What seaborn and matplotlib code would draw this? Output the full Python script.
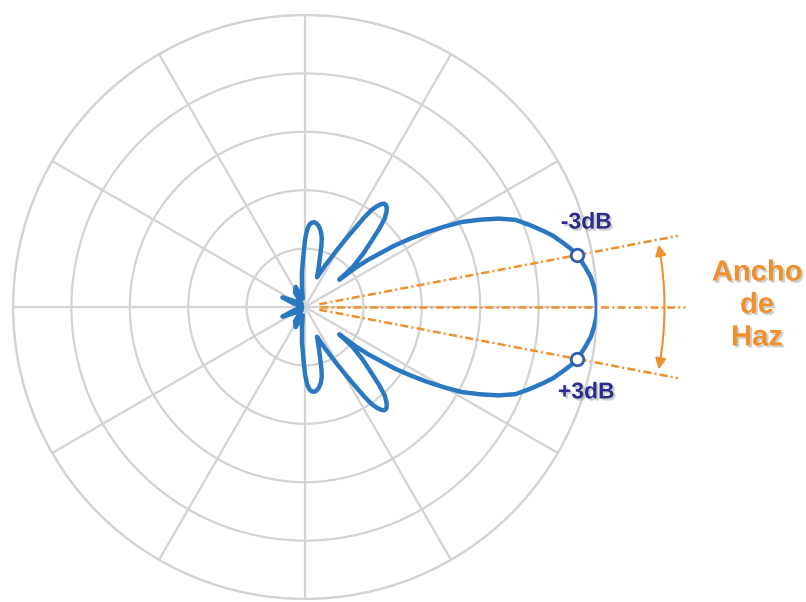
import numpy as np
import matplotlib
matplotlib.use("Agg")
import matplotlib.pyplot as plt
import matplotlib.patheffects as pe
import seaborn as sns

# radiation pattern, upper half (degrees, radius in grid rings); lower half is its mirror
theta_deg = [0, 2, 4, 6, 8, 10.8, 12.5, 14, 16, 17.5, 20, 22.5, 24.5, 26.5, 28.5,
             30, 31.5, 33, 34.5, 35.5, 36.8, 37.8, 38.5,
             40, 42.5, 44.6, 46.5, 48, 49.5, 50.5, 51.5, 52.5, 53.5, 54.5, 55.5, 56.5, 57.5,
             59, 60.7, 64, 68,
             71, 73.3, 75, 76.5, 78.5, 80.5, 82.5, 84, 85.5, 87, 88.5, 90, 92, 95, 98.5,
             105, 115, 125, 135, 150, 157, 163, 172, 180]
radius = [5.0, 4.99, 4.96, 4.92, 4.85, 4.75, 4.65, 4.55, 4.42, 4.3, 4.1, 3.9, 3.65, 3.35, 3.05,
          2.75, 2.45, 2.15, 1.85, 1.6, 1.35, 1.1, 0.75,
          1.07, 1.35, 1.58, 1.85, 2.04, 2.15, 2.2, 2.23, 2.23, 2.19, 2.12, 2.02, 1.84, 1.62,
          1.36, 1.12, 0.8, 0.55,
          0.72, 0.89, 1.08, 1.23, 1.34, 1.41, 1.45, 1.46, 1.45, 1.41, 1.32, 1.15, 0.86, 0.6, 0.35,
          0.15, 0.38, 0.3, 0.08, 0.2, 0.42, 0.2, 0.05, 0.05]

beam_edges_deg = [10.8, -10.8]
beam_edge_r = [4.75, 4.75]
edge_labels = ["-3dB", "+3dB"]
label_theta_deg = [16.8, -16.8]
ring_ticks = [1, 2, 3, 4, 5]
spoke_ticks = list(range(0, 360, 30))

BLUE = "#2a78c2"
NAVY = "#2b2d8c"
ORANGE = "#f0902c"
GRID = "#d3d3d3"

sns.set_theme(style="white")
plt.rcParams["font.family"] = ["Liberation Sans", "DejaVu Sans"]

fig = plt.figure(figsize=(8.06, 6.02), dpi=100)
ax = fig.add_axes([0.01613, 0.00498, 0.72457, 0.97010], projection="polar")

# full closed contour
th = np.radians(theta_deg)
full_theta = np.concatenate([th, -th[::-1]])
full_r = np.concatenate([radius, radius[::-1]])

# beam-width guide lines
for ang in [0] + beam_edges_deg:
    ax.plot([np.radians(ang)] * 2, [0.25, 6.5], color=ORANGE, lw=1.8,
            linestyle=(0, (3.2, 1.3, 0.8, 1.3)), clip_on=False, zorder=2)

sns.lineplot(x=full_theta, y=full_r, ax=ax, sort=False, estimator=None,
             color=BLUE, lw=3.2, zorder=3)
for line in ax.lines:
    line.set_solid_joinstyle("round")

ax.plot(np.radians(beam_edges_deg), beam_edge_r, linestyle="none", marker="o",
        markersize=9, markerfacecolor="white", markeredgecolor="#2f5fae",
        markeredgewidth=2, zorder=4, clip_on=False)

shadow = [pe.withSimplePatchShadow(offset=(1.5, -1.5), shadow_rgbFace="#777777", alpha=0.35)]
for lab, ang in zip(edge_labels, label_theta_deg):
    ax.text(np.radians(ang), 5.03, lab, color=NAVY, fontsize=16.5, fontweight="bold",
            ha="center", va="center", clip_on=False, path_effects=shadow)

# beam width arrow
ax.annotate("", xy=(np.radians(10.0), 6.15), xytext=(np.radians(-10.0), 6.15),
            arrowprops=dict(arrowstyle="<|-|>", color=ORANGE, lw=1.5,
                            mutation_scale=16, shrinkA=0, shrinkB=0,
                            connectionstyle="arc3,rad=0.09"),
            annotation_clip=False)

fig.text(0.9392, 0.4934, "Ancho\nde\nHaz", color=ORANGE, fontsize=21, fontweight="bold",
         ha="center", va="center", linespacing=1.2, path_effects=shadow)

ax.set_ylim(0, 5)
ax.set_rticks(ring_ticks)
ax.set_thetagrids(spoke_ticks)
ax.set_xticklabels([])
ax.set_yticklabels([])
ax.set_xlabel("")
ax.set_ylabel("")
ax.grid(True, color=GRID, lw=1.6)
ax.spines["polar"].set_color(GRID)
ax.spines["polar"].set_linewidth(1.6)

fig.savefig("out.png", dpi=100)
